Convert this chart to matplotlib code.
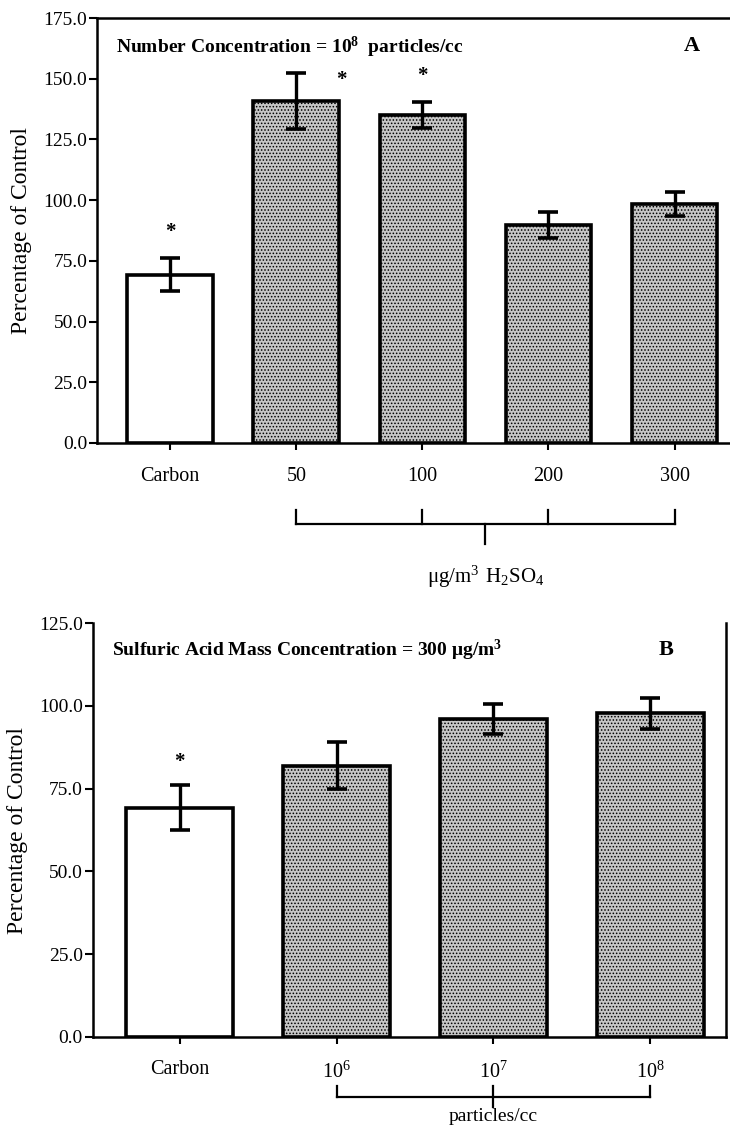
import matplotlib
matplotlib.use("Agg")
import matplotlib.pyplot as plt

plt.rcParams['font.family'] = ['Liberation Serif', 'DejaVu Serif']
plt.rcParams['mathtext.fontset'] = 'custom'
plt.rcParams['mathtext.rm'] = 'Liberation Serif'
plt.rcParams['mathtext.bf'] = 'Liberation Serif:bold'
plt.rcParams['hatch.linewidth'] = 0.7
plt.rcParams['hatch.color'] = '#505050'

# Panel A: sulfuric acid mass concentration series at 10^8 particles/cc
labels_a = ["Carbon", "50", "100", "200", "300"]
values_a = [69.2, 141.0, 135.0, 89.8, 98.3]
errors_a = [6.8, 11.5, 5.3, 5.3, 5.0]
signif_a = [True, True, True, False, False]

# Panel B: number concentration series at 300 ug/m3
labels_b = ["Carbon", "$10^6$", "$10^7$", "$10^8$"]
values_b = [69.2, 82.0, 96.0, 97.8]
errors_b = [6.8, 7.0, 4.5, 4.7]
signif_b = [True, False, False, False]

fill_carbon = "white"
fill_acid = "#c6c6c6"


def draw_panel(ax, labels, values, errors, signif, ymax):
    x = list(range(len(labels)))
    colors = [fill_carbon] + [fill_acid] * (len(labels) - 1)
    hatches = [""] + ["....."] * (len(labels) - 1)
    bars = ax.bar(x, values, width=0.68, color=colors, edgecolor="black",
                  linewidth=2.6, zorder=2)
    for b, h in zip(bars, hatches):
        b.set_hatch(h)
    ax.errorbar(x, values, yerr=errors, fmt="none", ecolor="black",
                elinewidth=2.4, capsize=7, capthick=2.6, zorder=3)
    ax.set_ylim(0, ymax)
    ax.set_xticks(x)
    ax.set_xticklabels(labels, fontsize=14.5)
    ax.tick_params(axis="x", length=5, width=1.5, pad=12)
    ax.tick_params(axis="y", length=6, width=1.5, labelsize=14, pad=1)
    ax.set_ylabel("Percentage of Control", fontsize=17, labelpad=8)
    for s in ax.spines.values():
        s.set_linewidth(1.8)
    return x


fig = plt.figure(figsize=(7.3, 11.27), dpi=100)

# ---- Panel A
ax1 = fig.add_axes([0.133, 0.607, 0.867, 0.377])
xa = draw_panel(ax1, labels_a, values_a, errors_a, signif_a, 175)
ax1.set_xlim(-0.58, 4.44)
ax1.set_yticks([0, 25, 50, 75, 100, 125, 150, 175])
ax1.set_yticklabels([f"{v:.1f}" for v in ax1.get_yticks()])
ax1.spines["right"].set_visible(False)
for xi, v, e, s in zip(xa, values_a, errors_a, signif_a):
    if s and xi == 1:
        # this star sits beside the cap, not above it
        ax1.text(xi + 0.36, v + e - 3, "*", ha="center", va="center",
                 fontsize=15, fontweight="bold")
    elif s:
        ax1.text(xi, v + e + 11, "*", ha="center", va="center",
                 fontsize=15, fontweight="bold")
ax1.text(0.03, 0.93, r"Number Concentration = $\mathbf{10^8}$  particles/cc",
         transform=ax1.transAxes, fontsize=14, fontweight="bold",
         ha="left", va="center")
ax1.text(0.94, 0.935, "A", transform=ax1.transAxes, fontsize=16,
         fontweight="bold", ha="center", va="center")

# bracket below the acid doses
tr = ax1.get_xaxis_transform()
ax1.plot([xa[1], xa[-1]], [-0.192, -0.192], color="black", lw=1.6,
         transform=tr, clip_on=False)
for xi in xa[1:]:
    ax1.plot([xi, xi], [-0.192, -0.157], color="black", lw=1.6,
             transform=tr, clip_on=False)
mid_a = (xa[1] + xa[-1]) / 2
ax1.plot([mid_a, mid_a], [-0.192, -0.238], color="black", lw=1.6,
         transform=tr, clip_on=False)
ax1.text(mid_a, -0.315, r"$\mathrm{\mu g/m^3\ H_2SO_4}$", transform=tr,
         ha="center", va="center", fontsize=15)

# ---- Panel B
ax2 = fig.add_axes([0.127, 0.080, 0.868, 0.367])
xb = draw_panel(ax2, labels_b, values_b, errors_b, signif_b, 125)
ax2.set_xlim(-0.555, 3.485)
ax2.set_yticks([0, 25, 50, 75, 100, 125])
ax2.set_yticklabels([f"{v:.1f}" for v in ax2.get_yticks()])
ax2.spines["top"].set_visible(False)
for xi, v, e, s in zip(xb, values_b, errors_b, signif_b):
    if s:
        ax2.text(xi, v + e + 7, "*", ha="center", va="center",
                 fontsize=15, fontweight="bold")
ax2.text(0.03, 0.935, r"Sulfuric Acid Mass Concentration = 300 $\mathbf{\mu g/m^3}$",
         transform=ax2.transAxes, fontsize=14, fontweight="bold",
         ha="left", va="center")
ax2.text(0.905, 0.935, "B", transform=ax2.transAxes, fontsize=16,
         fontweight="bold", ha="center", va="center")

tr2 = ax2.get_xaxis_transform()
ax2.plot([xb[1], xb[-1]], [-0.145, -0.145], color="black", lw=1.6,
         transform=tr2, clip_on=False)
for xi in (xb[1], xb[-1]):
    ax2.plot([xi, xi], [-0.145, -0.118], color="black", lw=1.6,
             transform=tr2, clip_on=False)
mid_b = (xb[1] + xb[-1]) / 2
ax2.plot([mid_b, mid_b], [-0.118, -0.17], color="black", lw=1.6,
         transform=tr2, clip_on=False)
ax2.text(mid_b, -0.203, "particles/cc", transform=tr2, ha="center",
         va="baseline", fontsize=14)

fig.savefig("out.png", dpi=100)
